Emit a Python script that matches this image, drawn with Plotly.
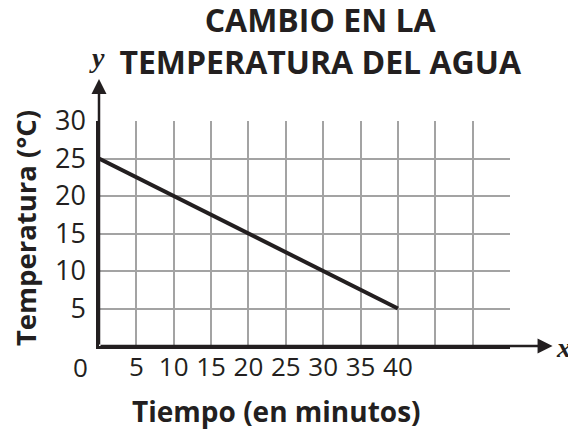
import plotly.graph_objects as go

# Data
tiempo = [0, 10, 20, 30, 40]
temperatura = [25, 20, 15, 10, 5]

x_tick_vals = [0, 5, 10, 15, 20, 25, 30, 35, 40, 45, 50, 55]
x_tick_text = ["", "5", "10", "15", "20", "25", "30", "35", "40", "", "", ""]
y_tick_vals = [0, 5, 10, 15, 20, 25, 30]
y_tick_text = ["", "5", "10", "15", "20", "25", "30"]

title_text = "CAMBIO EN LA<br>TEMPERATURA DEL AGUA"
x_title = "Tiempo (en minutos)"
y_title = "Temperatura (°C)"

INK = "#231f20"
GRID = "#a3a3a3"
FONT = "Open Sans"

fig = go.Figure()
fig.add_trace(go.Scatter(x=tiempo, y=temperatura, mode="lines",
                         line=dict(color=INK, width=4), cliponaxis=False,
                         hoverinfo="skip", showlegend=False))

fig.update_layout(
    width=576, height=432,
    margin=dict(l=91, r=74, t=113, b=94),
    paper_bgcolor="white", plot_bgcolor="white",
    showlegend=False,
    title=dict(text=title_text, x=0.542, xanchor="center", y=0.944, yanchor="middle",
               yref="container",
               font=dict(family=FONT, size=32, color=INK, weight="bold")),
)
fig.update_xaxes(range=[0, 55], tickvals=x_tick_vals, ticktext=x_tick_text,
                 showgrid=True, gridcolor=GRID, gridwidth=1.5, zeroline=False,
                 showline=True, linecolor=INK, linewidth=2.5, ticks="", ticklen=0,
                 ticklabelstandoff=-4,
                 tickfont=dict(family=FONT, size=26, color=INK), fixedrange=True)
fig.update_yaxes(range=[0, 30], tickvals=y_tick_vals, ticktext=y_tick_text,
                 showgrid=True, gridcolor=GRID, gridwidth=1.5, zeroline=False,
                 showline=True, linecolor=INK, linewidth=2.5, ticks="", ticklen=0,
                 ticklabelstandoff=5,
                 tickfont=dict(family=FONT, size=27, color=INK), fixedrange=True)

# axis arrows (extensions beyond grid)
fig.add_annotation(x=60.7, y=0, xref="x", yref="y", ax=0, ay=0, axref="x", ayref="y",
                   text="", showarrow=True, arrowhead=2, arrowsize=1.2,
                   arrowwidth=2.5, arrowcolor=INK, standoff=0, startstandoff=0)
fig.add_annotation(x=0, y=35.6, xref="x", yref="y", ax=0, ay=0, axref="x", ayref="y",
                   text="", showarrow=True, arrowhead=2, arrowsize=1.2,
                   arrowwidth=2.5, arrowcolor=INK, standoff=0, startstandoff=0)

def label(x, y, text, size, family=FONT, angle=0):
    fig.add_annotation(x=x, y=y, xref="paper", yref="paper", text=text,
                       xanchor="center", yanchor="middle", textangle=angle,
                       showarrow=False, font=dict(family=family, size=size, color=INK))

# axis letters
label(1.13, -0.006, "<i><b>x</b></i>", 28, "Liberation Serif")
label(-0.005, 1.28, "<i><b>y</b></i>", 28, "Liberation Serif")
# origin label
label(-0.046, -0.095, "0", 26)
# axis titles
label(0.4307, -0.29, "<b>" + x_title + "</b>", 28)
label(-0.18, 0.524, "<b>" + y_title + "</b>", 27.5, angle=-90)

fig.write_html("out.html")
